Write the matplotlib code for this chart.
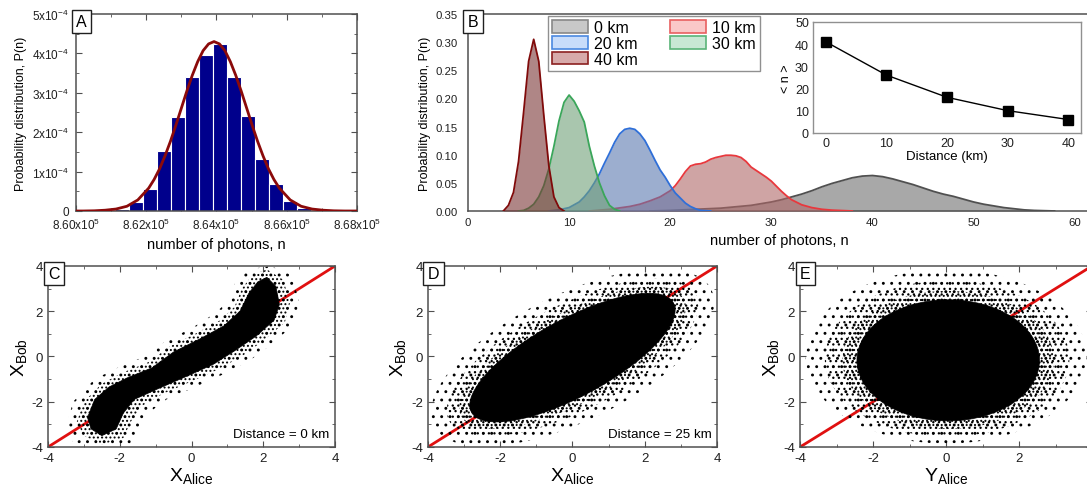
import numpy as np
import matplotlib
matplotlib.use('Agg')
import matplotlib.pyplot as plt
from matplotlib.patches import Polygon, Ellipse, Patch
from matplotlib.ticker import MultipleLocator

plt.rcParams['font.family'] = ['Liberation Sans', 'DejaVu Sans']
plt.rcParams['axes.unicode_minus'] = False
plt.rcParams['hatch.linewidth'] = 0.9

# ---- panel A: photon number histogram + gaussian fit
hist_centers = [861300, 861700, 862100, 862500, 862900, 863300, 863700,
                864100, 864500, 864900, 865300, 865700, 866100, 866500]
hist_heights = [0.05, 0.23, 0.57, 1.51, 2.39, 3.39, 3.97,
                4.23, 3.40, 2.41, 1.33, 0.68, 0.25, 0.08]  # x 1e-4
hist_width = 400
fit_peak = 863930
fit_dx = [0, 155, 310, 465, 620, 775, 930, 1085, 1240, 1395, 1550, 1705,
          1860, 2170, 2480, 2790, 3100, 3410, 3720, 4200]
fit_y = [4.30, 4.24, 4.07, 3.79, 3.44, 3.04, 2.61, 2.18, 1.77, 1.40, 1.07, 0.80,
         0.58, 0.28, 0.12, 0.05, 0.02, 0.005, 0.0, 0.0]  # x 1e-4
a_xticks = [860000, 862000, 864000, 866000, 868000]
a_xlabels = [r'8.60x10$^{\mathregular{5}}$', r'8.62x10$^{\mathregular{5}}$', r'8.64x10$^{\mathregular{5}}$',
             r'8.66x10$^{\mathregular{5}}$', r'8.68x10$^{\mathregular{5}}$']
a_yticks = [0, 1e-4, 2e-4, 3e-4, 4e-4, 5e-4]
a_ylabels = ['0', r'1x10$^{\mathregular{-4}}$', r'2x10$^{\mathregular{-4}}$', r'3x10$^{\mathregular{-4}}$',
             r'4x10$^{\mathregular{-4}}$', r'5x10$^{\mathregular{-4}}$']

# ---- panel B: photon number distributions vs distance
km0_x = [18, 20, 25, 28, 30, 31, 32, 33, 34, 35, 36, 37, 38, 39, 40, 41, 42, 43, 44, 45,
         46, 47, 48, 49, 50, 51, 52, 53, 54, 55, 56, 58]
km0_y = [0, 0.001, 0.005, 0.01, 0.016, 0.02, 0.025, 0.03, 0.036, 0.043, 0.049, 0.054, 0.059,
         0.062, 0.063, 0.061, 0.057, 0.052, 0.047, 0.041, 0.035, 0.03, 0.026, 0.021, 0.016,
         0.012, 0.009, 0.006, 0.004, 0.002, 0.001, 0]
km10_x = [12, 14, 16, 17, 18, 19, 20, 20.5, 21, 21.5, 22, 22.5, 23, 23.5, 24, 24.5, 25, 25.5,
          26, 26.5, 27, 27.5, 28, 28.5, 29, 29.5, 30, 30.5, 31, 31.5, 32, 33, 34, 35, 36, 38]
km10_y = [0, 0.003, 0.008, 0.012, 0.018, 0.025, 0.036, 0.045, 0.057, 0.07, 0.08, 0.083, 0.084,
          0.087, 0.092, 0.095, 0.097, 0.099, 0.099, 0.098, 0.095, 0.088, 0.078, 0.072, 0.066,
          0.06, 0.053, 0.044, 0.035, 0.027, 0.02, 0.011, 0.006, 0.003, 0.0015, 0]
km20_x = [8, 9, 10, 11, 11.5, 12, 12.5, 13, 13.5, 14, 14.5, 15, 15.5, 16, 16.5, 17, 17.5, 18,
          18.5, 19, 19.5, 20, 20.5, 21, 21.5, 22, 22.5, 23, 24]
km20_y = [0, 0.002, 0.006, 0.016, 0.025, 0.036, 0.05, 0.066, 0.085, 0.103, 0.122, 0.137, 0.145,
          0.147, 0.145, 0.137, 0.125, 0.108, 0.09, 0.073, 0.06, 0.045, 0.032, 0.023, 0.014,
          0.008, 0.004, 0.001, 0]
km30_x = [5, 5.5, 6, 6.5, 7, 7.5, 8, 8.5, 9, 9.5, 10, 10.5, 11, 11.5, 12, 12.5, 13, 13.5,
          14, 14.5, 15]
km30_y = [0, 0.001, 0.005, 0.012, 0.025, 0.045, 0.075, 0.115, 0.16, 0.193, 0.206, 0.195, 0.178,
          0.158, 0.115, 0.08, 0.05, 0.027, 0.01, 0.003, 0]
km40_x = [3.5, 4, 4.5, 5, 5.5, 6, 6.5, 7, 7.5, 8, 8.5, 9, 9.5]
km40_y = [0, 0.01, 0.033, 0.088, 0.175, 0.266, 0.305, 0.266, 0.17, 0.08, 0.025, 0.006, 0]

b_labels = ['0 km', '10 km', '20 km', '30 km', '40 km']
b_edge = ['#505050', '#e8383d', '#2f6fd8', '#3aa65a', '#800a0a']
b_fill = ['#6e6e6e', '#b06868', '#5a78b0', '#70a078', '#7a3535']
b_leg_face = ['#c8c8c8', '#fac8c8', '#c8dcfa', '#c8e8d4', '#d7aaaa']
b_leg_edge = ['#888888', '#e86060', '#4a88e0', '#5ab478', '#8c2020']

# inset: mean photon number
dist_km = [0, 10, 20, 30, 40]
mean_n = [41, 26, 16, 10, 6]

# ---- panels C-E: quadrature correlation clouds (outlines)
c_core = [(-2.9, -2.7), (-2.7, -1.9), (-2.3, -1.35), (-1.8, -0.95), (-1.1, -0.5), (-0.5, 0.2),
          (0.2, 0.75), (0.9, 1.35), (1.35, 2.0), (1.6, 2.8), (1.85, 3.3), (2.1, 3.5), (2.35, 3.1),
          (2.45, 2.3), (2.3, 1.6), (1.8, 0.9), (1.2, 0.25), (0.6, -0.35), (-0.1, -0.85),
          (-0.9, -1.4), (-1.6, -1.9), (-1.9, -2.5), (-2.1, -3.2), (-2.5, -3.5), (-2.8, -3.2)]
c_fringe = [(-3.2, -2.9), (-3.0, -2.0), (-2.5, -1.2), (-1.9, -0.7), (-1.2, -0.25), (-0.6, 0.45),
            (0.1, 1.0), (0.8, 1.6), (1.2, 2.2), (1.4, 3.0), (1.7, 3.6), (2.1, 3.85), (2.55, 3.4),
            (2.75, 2.4), (2.6, 1.5), (2.0, 0.7), (1.4, 0.0), (0.7, -0.6), (0.0, -1.1),
            (-0.8, -1.65), (-1.4, -2.2), (-1.7, -2.9), (-1.9, -3.6), (-2.5, -3.9), (-3.0, -3.5)]
c_outer = [(-3.5, -3.1), (-3.3, -2.0), (-2.7, -1.0), (-2.0, -0.45), (-1.3, 0.0), (-0.7, 0.7),
           (0.0, 1.25), (0.6, 1.85), (1.0, 2.4), (1.2, 3.2), (1.6, 3.85), (2.2, 4.0), (2.8, 3.6),
           (3.0, 2.4), (2.85, 1.4), (2.2, 0.5), (1.6, -0.2), (0.8, -0.85), (0.1, -1.35),
           (-0.7, -1.9), (-1.2, -2.5), (-1.5, -3.2), (-1.7, -3.9), (-2.6, -4.0), (-3.3, -3.8)]
# ellipses (cx, cy, width, height, angle): core, then fringes from dense to sparse
d_cloud = [(0.0, -0.05, 7.5, 2.9, 45), (0.0, -0.05, 8.2, 3.4, 45),
           (0.0, -0.05, 9.0, 4.0, 45), (0.0, -0.05, 10.0, 4.8, 45)]
e_cloud = [(0.06, -0.17, 5.0, 5.35, 0), (0.06, -0.15, 5.8, 6.1, 0),
           (0.03, -0.1, 6.7, 6.9, 0), (0.0, 0.0, 7.7, 7.7, 0)]
fringe_hatch = ['....', '...', '..']
sc_ticks = [-4, -2, 0, 2, 4]
sc_ticklabels = ['-4', '-2', '0', '2', '4']

spine_col = '#505050'

fig = plt.figure(figsize=(10.87, 4.85), dpi=100)


def panel_letter(ax, s):
    ax.text(0.0, 1.0, s, transform=ax.transAxes, ha='left', va='top', fontsize=11.5,
            bbox=dict(boxstyle='square,pad=0.28', fc='white', ec='#202020', lw=1.0),
            zorder=10)


def style_spines(ax, col=spine_col, lw=1.1):
    for sp in ax.spines.values():
        sp.set_color(col)
        sp.set_linewidth(lw)


# ---------------- A
axA = fig.add_axes([0.0699, 0.5629, 0.2585, 0.4062])
axA.bar(hist_centers, np.array(hist_heights) * 1e-4, width=hist_width, color='#00008c',
        edgecolor='white', linewidth=0.8, zorder=2)
fit_x = np.concatenate([fit_peak - np.array(fit_dx[::-1]), fit_peak + np.array(fit_dx[1:])])
fit_v = np.concatenate([np.array(fit_y[::-1]), np.array(fit_y[1:])]) * 1e-4
axA.plot(fit_x, fit_v, color='#8b0a0a', lw=2.0, zorder=3)
axA.set_xlim(860000, 868000)
axA.set_ylim(0, 5e-4)
axA.set_xticks(a_xticks)
axA.set_xticklabels(a_xlabels, fontsize=8.5)
axA.set_yticks(a_yticks)
axA.set_yticklabels(a_ylabels, fontsize=8.5)
axA.xaxis.set_minor_locator(MultipleLocator(1000))
axA.yaxis.set_minor_locator(MultipleLocator(0.5e-4))
axA.tick_params(which='both', direction='in', top=True, right=True, colors=spine_col,
                labelcolor='#202020')
axA.tick_params(which='major', length=4)
axA.tick_params(which='minor', length=2)
axA.tick_params(axis='x', pad=4)
axA.tick_params(axis='y', pad=5)
axA.set_xlabel('number of photons, n', fontsize=10.5, labelpad=4)
axA.set_ylabel('Probability distribution, P(n)', fontsize=9)
style_spines(axA)
panel_letter(axA, 'A')

# ---------------- B
axB = fig.add_axes([0.4305, 0.5629, 0.5722, 0.4062])
b_x = [km0_x, km10_x, km20_x, km30_x, km40_x]
b_y = [km0_y, km10_y, km20_y, km30_y, km40_y]
for i in range(len(b_labels)):
    axB.fill_between(b_x[i], b_y[i], 0, color=b_fill[i], alpha=0.6, lw=0, zorder=2 + i)
    axB.plot(b_x[i], b_y[i], color=b_edge[i], lw=1.3, zorder=2 + i)
axB.set_xlim(0, 61.5)
axB.set_ylim(0, 0.35)
axB.set_xticks([0, 10, 20, 30, 40, 50, 60])
axB.set_yticks([0, 0.05, 0.10, 0.15, 0.20, 0.25, 0.30, 0.35])
axB.set_yticklabels(['0.00', '0.05', '0.10', '0.15', '0.20', '0.25', '0.30', '0.35'])
axB.tick_params(length=0, labelsize=8.2, labelcolor='#202020')
axB.tick_params(axis='y', pad=7.5)
axB.tick_params(axis='x', pad=4.5)
axB.set_xlabel('number of photons, n', fontsize=10.5, labelpad=4)
axB.set_ylabel('Probability distribution, P(n)', fontsize=9, labelpad=3)
style_spines(axB)
panel_letter(axB, 'B')
order = [0, 2, 4, 1, 3]
handles = [Patch(facecolor=b_leg_face[i], edgecolor=b_leg_edge[i], lw=1.2) for i in order]
axB.legend(handles, [b_labels[i] for i in order], ncol=2, loc='upper left',
           bbox_to_anchor=(0.128, 0.99), fontsize=11.5, frameon=True, fancybox=False,
           edgecolor='#909090', framealpha=1, handlelength=2.3, handleheight=0.85,
           labelspacing=0.05, columnspacing=2.0, handletextpad=0.35, borderpad=0.25,
           borderaxespad=0)

# inset
axI = fig.add_axes([0.748, 0.724, 0.2466, 0.229])
axI.plot(dist_km, mean_n, color='black', lw=1.0, marker='s', markersize=7,
         markerfacecolor='black', markeredgecolor='black')
axI.set_xlim(-2.1, 42.1)
axI.set_ylim(0, 50)
axI.set_xticks(dist_km)
axI.set_yticks([0, 10, 20, 30, 40, 50])
axI.tick_params(length=0, labelsize=9, pad=3, labelcolor='#202020')
axI.set_xlabel('Distance (km)', fontsize=9.5, labelpad=1)
axI.set_ylabel('< n >', fontsize=9, labelpad=2)
style_spines(axI, '#909090', 1.0)


# ---------------- C, D, E
def scatter_axes(rect, letter, xlab, note):
    ax = fig.add_axes(rect)
    ax.plot([-4, 4], [-4, 4], color='#e01010', lw=2.0, zorder=1)
    ax.set_xlim(-4, 4)
    ax.set_ylim(-4, 4)
    ax.set_xticks(sc_ticks)
    ax.set_xticklabels(sc_ticklabels)
    ax.set_yticks(sc_ticks)
    ax.set_yticklabels(sc_ticklabels)
    ax.xaxis.set_minor_locator(MultipleLocator(1))
    ax.yaxis.set_minor_locator(MultipleLocator(1))
    ax.tick_params(which='both', direction='in', top=True, right=True, labelsize=9.5,
                   colors=spine_col, labelcolor='#202020')
    ax.tick_params(which='major', length=4)
    ax.tick_params(which='minor', length=2)
    ax.set_xlabel(xlab, fontsize=14, labelpad=1)
    ax.set_ylabel(r'$\mathregular{X_{Bob}}$', fontsize=14, labelpad=2)
    style_spines(ax)
    panel_letter(ax, letter)
    if note:
        ax.text(3.85, -3.43, note, ha='right', va='center', fontsize=9.6, zorder=10)
    return ax


def add_ellipses(ax, cloud):
    # sparse fringe first, dense core last; overlapping hatches thicken towards the centre
    for k in range(len(cloud) - 1, 0, -1):
        cx, cy, w, h, ang = cloud[k]
        ax.add_patch(Ellipse((cx, cy), w, h, angle=ang, fill=False,
                             hatch=fringe_hatch[k - 1], edgecolor='black', lw=0, zorder=2))
    cx, cy, w, h, ang = cloud[0]
    ax.add_patch(Ellipse((cx, cy), w, h, angle=ang, facecolor='black', edgecolor='black',
                         lw=0.5, zorder=4))


axC = scatter_axes([0.0442, 0.0763, 0.2640, 0.3732], 'C', r'$\mathregular{X_{Alice}}$',
                   'Distance = 0 km')
axC.add_patch(Polygon(c_outer, closed=True, fill=False, hatch='..', edgecolor='black',
                      lw=0, zorder=2))
axC.add_patch(Polygon(c_fringe, closed=True, fill=False, hatch='....', edgecolor='black',
                      lw=0, zorder=2))
axC.add_patch(Polygon(c_core, closed=True, facecolor='black', edgecolor='black', lw=0.5,
                      zorder=3))

axD = scatter_axes([0.3937, 0.0763, 0.2659, 0.3732], 'D', r'$\mathregular{X_{Alice}}$',
                   'Distance = 25 km')
add_ellipses(axD, d_cloud)

axE = scatter_axes([0.7360, 0.0763, 0.2686, 0.3732], 'E', r'$\mathregular{Y_{Alice}}$', None)
add_ellipses(axE, e_cloud)

fig.savefig('out.png', dpi=100)
